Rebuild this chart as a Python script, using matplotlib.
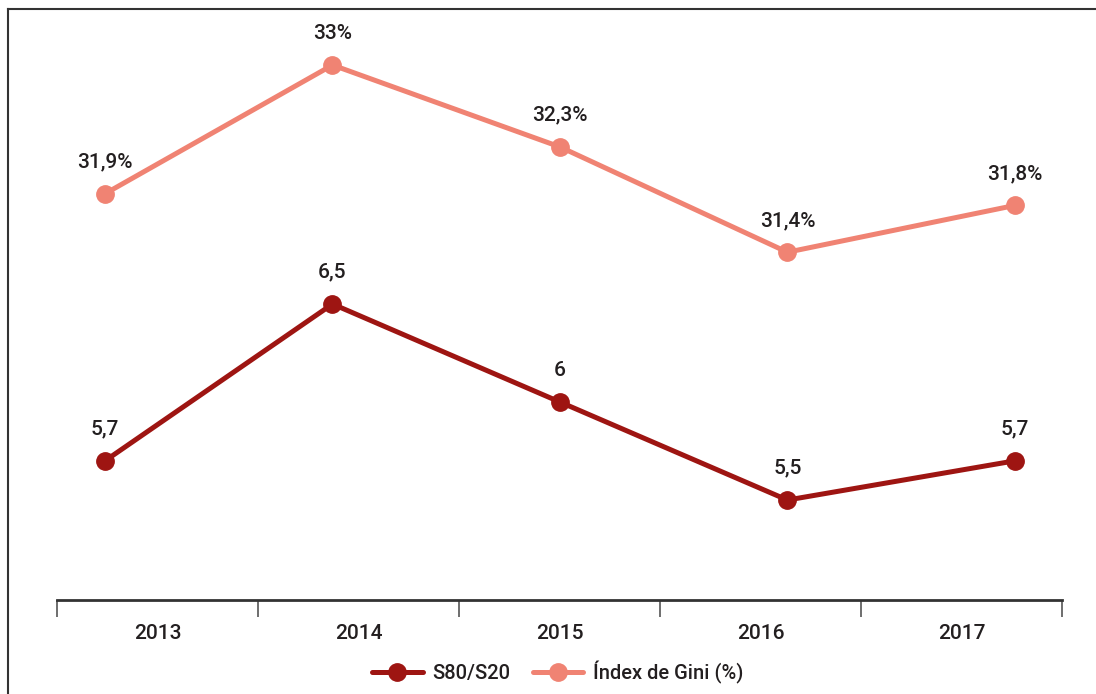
import matplotlib.pyplot as plt
from matplotlib.lines import Line2D

years = ['2013', '2014', '2015', '2016', '2017']
s80_s20 = [5.7, 6.5, 6.0, 5.5, 5.7]
gini = [31.9, 33.0, 32.3, 31.4, 31.8]
s80_labels = ['5,7', '6,5', '6', '5,5', '5,7']
gini_labels = ['31,9%', '33%', '32,3%', '31,4%', '31,8%']

dark_red = '#9E1512'
salmon = '#F08373'
txt = '#231F20'

plt.rcParams['font.family'] = ['Roboto', 'DejaVu Sans']
plt.rcParams['font.weight'] = 'medium'

W, H = 1096, 694
fig = plt.figure(figsize=(W / 100, H / 100), dpi=100)

# frame lines (left and top)
fig.add_artist(Line2D([8 / W, 8 / W], [0, 1 - 9 / H], color='#333333', lw=1.5))
fig.add_artist(Line2D([8 / W, 1], [1 - 9 / H, 1 - 9 / H], color='#333333', lw=1.5))

left, right = 57 / W, 1062 / W
bottom, top = (H - 600) / H, (H - 20) / H
pos = [left, bottom, right - left, top - bottom]

# category axis
ax = fig.add_axes(pos)
ax.set_xlim(0, len(years))
ax.set_ylim(0, 1)
for s in ['left', 'right', 'top']:
    ax.spines[s].set_visible(False)
ax.spines['bottom'].set_color('#333333')
ax.spines['bottom'].set_linewidth(2)
ax.set_yticks([])
ax.set_xticks(range(len(years) + 1))
ax.set_xticklabels([''] * (len(years) + 1))
ax.tick_params(axis='x', length=12, width=1.2, color='#555555', direction='out')
ax.set_xticks([i + 0.5 for i in range(len(years))], minor=True)
ax.set_xticklabels(years, minor=True, fontsize=15, color=txt, fontweight='medium')
ax.tick_params(axis='x', which='minor', length=0, pad=17)

# line axes
a1 = fig.add_axes(pos)
a1.patch.set_visible(False)
a1.axis('off')
xs = list(range(len(years)))
a1.set_xlim(-0.211, 4.207)
a1.set_ylim(28.427, 33.385)
a2 = a1.twinx()
a2.axis('off')
a2.set_ylim(4.990, 7.949)

l2, = a2.plot(xs, s80_s20, color=dark_red, lw=3.6, marker='o', ms=12.5,
              solid_capstyle='round', label='S80/S20')
l1, = a1.plot(xs, gini, color=salmon, lw=3.6, marker='o', ms=12.5,
              solid_capstyle='round', label='Índex de Gini (%)')

for x, v, t in zip(xs, gini, gini_labels):
    a1.annotate(t, (x, v), xytext=(0, 16), textcoords='offset points',
                ha='center', va='bottom', fontsize=15, color=txt,
                fontweight='medium')
for x, v, t in zip(xs, s80_s20, s80_labels):
    a2.annotate(t, (x, v), xytext=(0, 16), textcoords='offset points',
                ha='center', va='bottom', fontsize=15, color=txt,
                fontweight='medium')

fig.legend([l2, l1], ['S80/S20', 'Índex de Gini (%)'], loc='center',
           bbox_to_anchor=(558 / W, 1 - 672 / H), ncol=2, frameon=False,
           prop={'size': 14.5, 'weight': 'medium'}, handlelength=2.5,
           columnspacing=1.1, handletextpad=0.5, labelcolor=txt)

fig.savefig('out.png', dpi=100)
